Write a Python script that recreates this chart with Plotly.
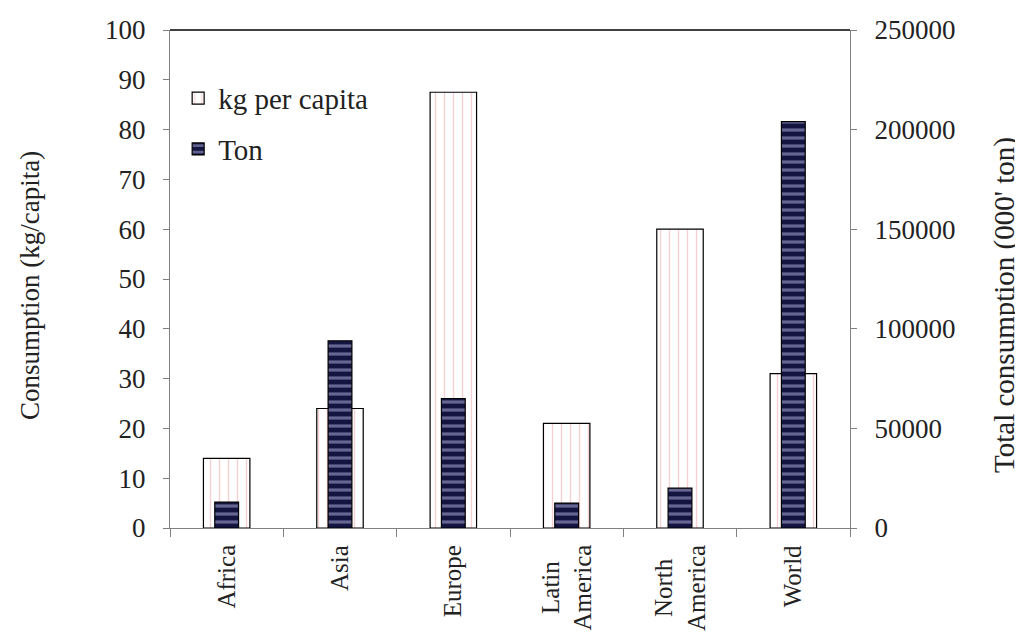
import plotly.graph_objects as go

categories = ["Africa", "Asia", "Europe", "Latin<br>America", "North<br>America", "World"]
kg_per_capita = [14, 24, 87.5, 21, 60, 31]
ton = [13000, 94000, 65000, 12500, 20000, 204000]

left_ticks = [0, 10, 20, 30, 40, 50, 60, 70, 80, 90, 100]
right_ticks = [0, 50000, 100000, 150000, 200000, 250000]
right_tick_labels = ["0", "50000", "100000", "150000", "200000", "250000"]

FONT = "Liberation Serif"

fig = go.Figure()
fig.add_trace(go.Bar(
    x=categories, y=kg_per_capita, name="kg per capita", yaxis="y",
    width=0.41, legendgroup="a",
    marker=dict(color="white", line=dict(color="black", width=1.2),
                pattern=dict(shape="|", fgcolor="#f2a0a8", bgcolor="white", size=9, solidity=0.15)),
))
fig.add_trace(go.Bar(
    x=categories, y=ton, name="Ton", yaxis="y2",
    width=0.21, legendgroup="b",
    marker=dict(color="#1a1a4a", line=dict(color="black", width=1.2),
                pattern=dict(shape="-", fgcolor="#b8b8e8", bgcolor="#141440", size=8, solidity=0.4)),
))

# category labels drawn as centred, rotated annotations
annotations = [
    dict(x=c, y=-0.03, xref="x", yref="paper", text=c, textangle=-90, showarrow=False,
         xanchor="center", yanchor="top", align="center",
         font=dict(family=FONT, size=25, color="#222222"))
    for c in categories
]
annotations.append(dict(x=-0.206, y=0.488, xref="paper", yref="paper",
                        text="Consumption (kg/capita)", textangle=-90, showarrow=False,
                        xanchor="center", yanchor="middle",
                        font=dict(family=FONT, size=27, color="#222222")))
annotations.append(dict(x=1.228, y=0.448, xref="paper", yref="paper",
                        text="Total consumption (000' ton)", textangle=-90, showarrow=False,
                        xanchor="center", yanchor="middle",
                        font=dict(family=FONT, size=29, color="#222222")))

fig.update_layout(
    width=1023, height=639,
    paper_bgcolor="white", plot_bgcolor="white",
    barmode="overlay",
    margin=dict(l=162, r=181, t=22, b=119, autoexpand=False),
    font=dict(family=FONT, size=26, color="#222222"),
    showlegend=True,
    legend=dict(x=0.012, y=0.914, xanchor="left", yanchor="top", bgcolor="rgba(0,0,0,0)",
                font=dict(family=FONT, size=29, color="#222222"), tracegroupgap=10,
                traceorder="grouped", itemwidth=30),
    xaxis=dict(type="category", showline=True, linecolor="#808080", linewidth=1,
               ticks="outside", tickson="boundaries", ticklen=8, tickcolor="#808080",
               showticklabels=False, showgrid=False, automargin=False),
    yaxis=dict(range=[0, 100], tickvals=left_ticks, showline=True, linecolor="#808080",
               linewidth=1, ticks="outside", ticklen=6, tickcolor="#808080", showgrid=False,
               zeroline=False, automargin=False, tickfont=dict(size=27), ticklabelstandoff=12),
    yaxis2=dict(range=[0, 250000], tickvals=right_ticks, ticktext=right_tick_labels,
                overlaying="y", side="right",
                showline=True, linecolor="#808080", linewidth=1, ticks="outside", ticklen=6,
                tickcolor="#808080", showgrid=False, zeroline=False, automargin=False,
                tickfont=dict(size=27), ticklabelstandoff=12),
    annotations=annotations,
    shapes=[dict(type="line", xref="paper", yref="paper", x0=0, x1=1, y0=1, y1=1,
                 line=dict(color="black", width=1.5))],
)

fig.write_html("out.html")
